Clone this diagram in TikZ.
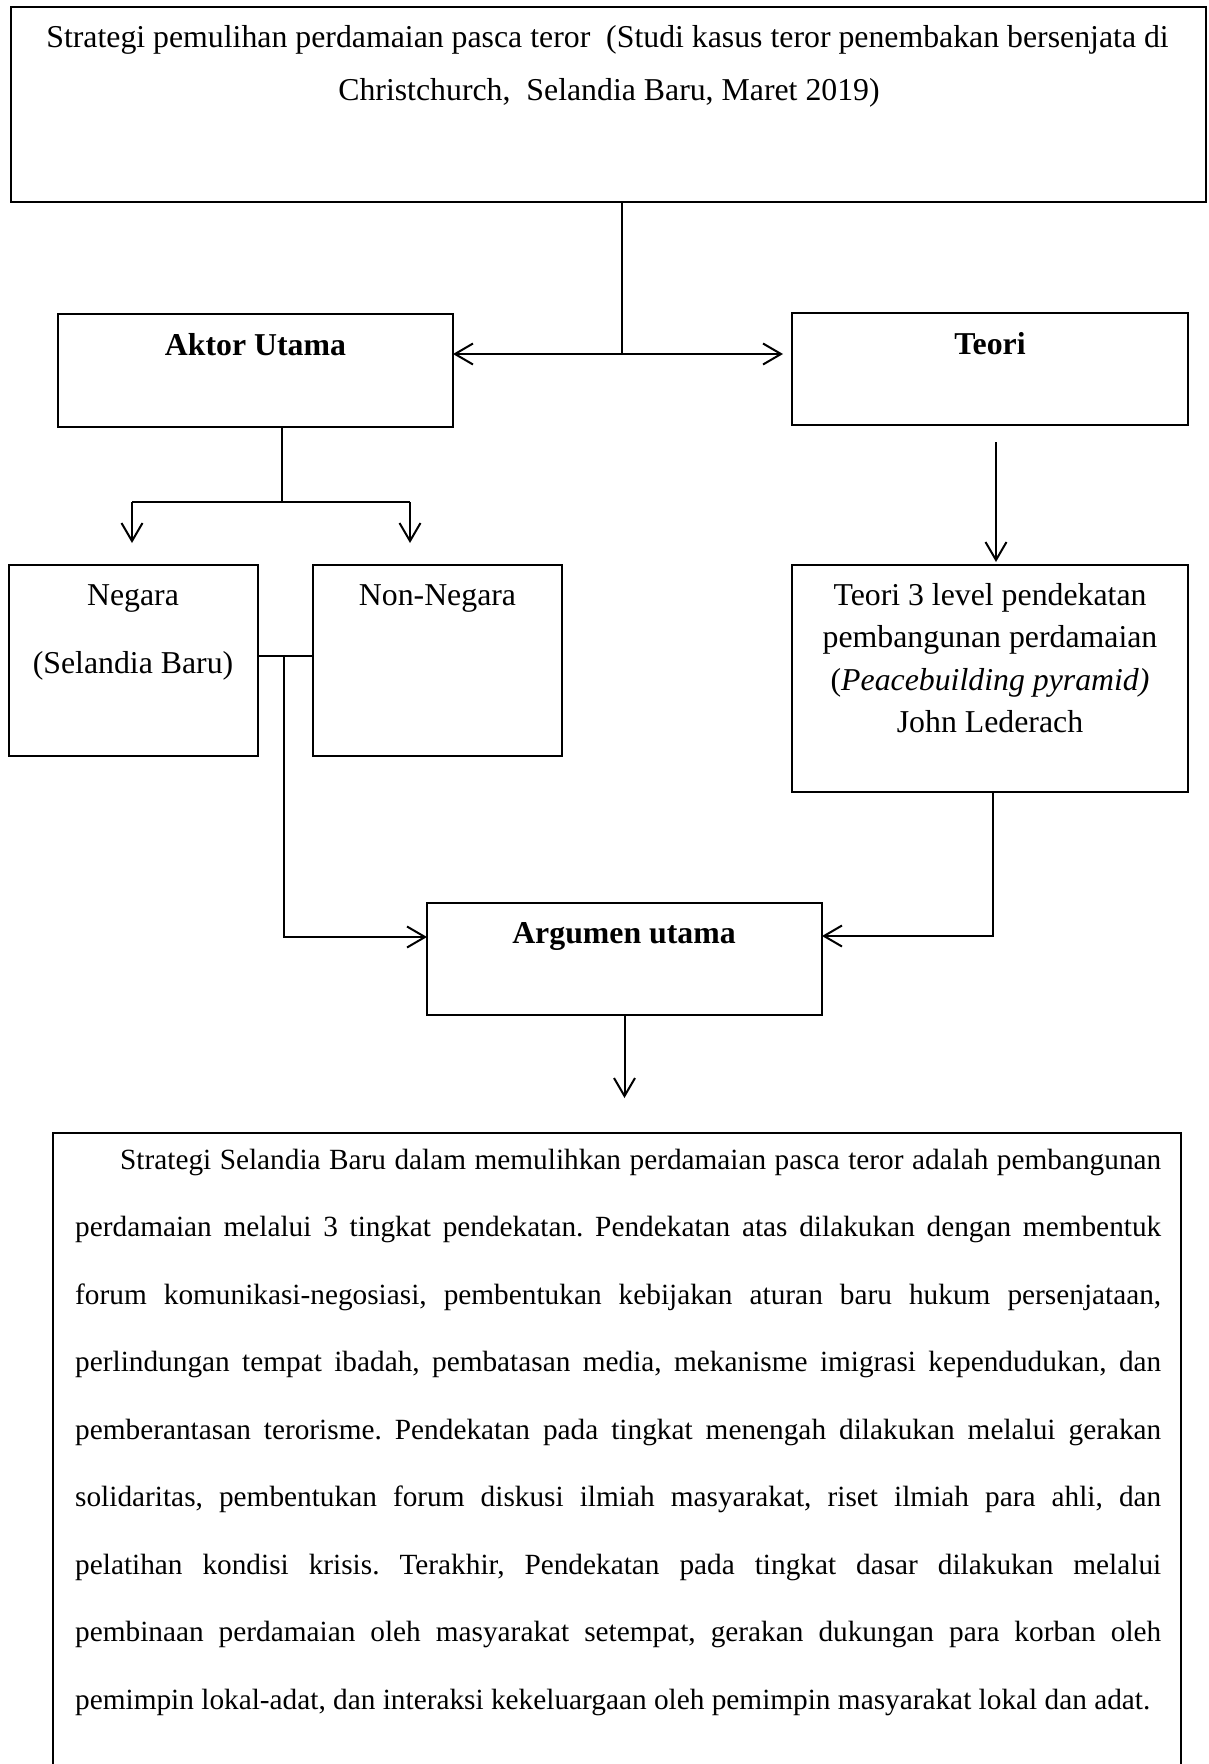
\documentclass[tikz,border=0pt]{standalone}
\usepackage{fontspec}
\setmainfont{Liberation Serif}
\usetikzlibrary{arrows.meta}
\newcommand\boxfont{\fontsize{31.8pt}{38pt}\selectfont}
\newcommand\parfont{\fontsize{29.3pt}{35pt}\selectfont}
\frenchspacing
\begin{document}
\frenchspacing
\begin{tikzpicture}[x=1pt,y=-1pt,
  box/.style={draw, line width=1.3pt, inner sep=0pt, outer sep=0pt, rectangle},
  conn/.style={line width=2pt},
  arr/.style={conn, -{Straight Barb[length=18pt,width=21pt]}},
  txt/.style={inner sep=0pt, anchor=base, font=\boxfont},
  ptxt/.style={inner sep=0pt, anchor=base west, font=\parfont}]
\useasboundingbox (0,0) rectangle (1208,1764);
\clip (0,0) rectangle (1208,1764);
\fill[white] (0,0) rectangle (1208,1764);

% boxes
\node[box, minimum width=1195pt, minimum height=195pt] (title) at (608.5,104.5) {};
\node[box, minimum width=395pt, minimum height=113pt] (aktor) at (255.5,370.5) {};
\node[box, minimum width=396pt, minimum height=112pt] (teori) at (990,369) {};
\node[box, minimum width=249pt, minimum height=191pt] (negara) at (133.5,660.5) {};
\node[box, minimum width=249pt, minimum height=191pt] (nonneg) at (437.5,660.5) {};
\node[box, minimum width=396pt, minimum height=227pt] (teori3) at (990,678.5) {};
\node[box, minimum width=395pt, minimum height=112pt] (argumen) at (624.5,959) {};
\node[box, minimum width=1128pt, minimum height=800pt] (bottom) at (617,1533) {};

% texts
\node[txt] (tt1) at (607.5,47) {Strategi pemulihan perdamaian pasca teror\ \ (Studi kasus teror penembakan bersenjata di};
\node[txt] (tt2) at (609,100) {Christchurch,\ \ Selandia Baru, Maret 2019)};
\node[txt] (ak) at (255.5,355) {\bfseries Aktor Utama};
\node[txt] (te) at (990,354) {\bfseries Teori};
\node[txt] (ng1) at (133,605) {Negara};
\node[txt] (ng2) at (133,673) {(Selandia Baru)};
\node[txt] (nn) at (437.5,605) {Non-Negara};
\node[txt] (t31) at (990,605) {Teori 3 level pendekatan};
\node[txt] (t32) at (990,647) {pembangunan perdamaian};
\node[txt] (t33) at (990,690) {(\textit{Peacebuilding pyramid)}};
\node[txt] (t34) at (990,732) {John Lederach};
\node[txt] (ar) at (624,943) {\bfseries Argumen utama};

\node[ptxt] (p1) at (120,1169) {\makebox[1041pt][s]{Strategi Selandia Baru dalam memulihkan perdamaian pasca teror adalah pembangunan}};
\node[ptxt] (p2) at (75,1236.5) {\makebox[1086pt][s]{perdamaian melalui 3 tingkat pendekatan. Pendekatan atas dilakukan dengan membentuk}};
\node[ptxt] (p3) at (75,1304) {\makebox[1086pt][s]{forum komunikasi-negosiasi, pembentukan kebijakan aturan baru hukum persenjataan,}};
\node[ptxt] (p4) at (75,1371.5) {\makebox[1086pt][s]{perlindungan tempat ibadah, pembatasan media, mekanisme imigrasi kependudukan, dan}};
\node[ptxt] (p5) at (75,1439) {\makebox[1086pt][s]{pemberantasan terorisme. Pendekatan pada tingkat menengah dilakukan melalui gerakan}};
\node[ptxt] (p6) at (75,1506.5) {\makebox[1086pt][s]{solidaritas, pembentukan forum diskusi ilmiah masyarakat, riset ilmiah para ahli, dan}};
\node[ptxt] (p7) at (75,1574) {\makebox[1086pt][s]{pelatihan kondisi krisis. Terakhir, Pendekatan pada tingkat dasar dilakukan melalui}};
\node[ptxt] (p8) at (75,1641.5) {\makebox[1086pt][s]{pembinaan perdamaian oleh masyarakat setempat, gerakan dukungan para korban oleh}};
\node[ptxt] (p9) at (75,1709) {pemimpin lokal-adat, dan interaksi kekeluargaan oleh pemimpin masyarakat lokal dan adat.};

% connectors
\coordinate (j1) at (622,354);
\draw[conn] (title.south -| j1) -- (j1);
\draw[arr] (j1) -- (aktor.east |- j1);
\draw[arr, shorten >=9pt] (j1) -- (teori.west |- j1);

\coordinate (j2) at (282,502);
\coordinate (bl) at (132,502);
\coordinate (br) at (410,502);
\coordinate (bla) at (132,543);
\coordinate (bra) at (410,543);
\draw[conn] (aktor.south -| j2) -- (j2);
\draw[conn] (bl) -- (br);
\draw[arr] (bl) -- (bla);
\draw[arr] (br) -- (bra);

\coordinate (ts) at (996,442);
\draw[arr, shorten >=3pt] (ts) -- (ts |- teori3.north);

\coordinate (j3) at (284,656);
\draw[conn] (negara.east |- j3) -- (nonneg.west |- j3);
\draw[arr] (j3) |- ([yshift=22pt]argumen.west);

\coordinate (t3b) at (993,792);
\draw[arr] (t3b) |- ([yshift=23pt]argumen.east);

\draw[arr, shorten >=35pt] (argumen.south) -- (argumen.south |- bottom.north);
\end{tikzpicture}
\end{document}
